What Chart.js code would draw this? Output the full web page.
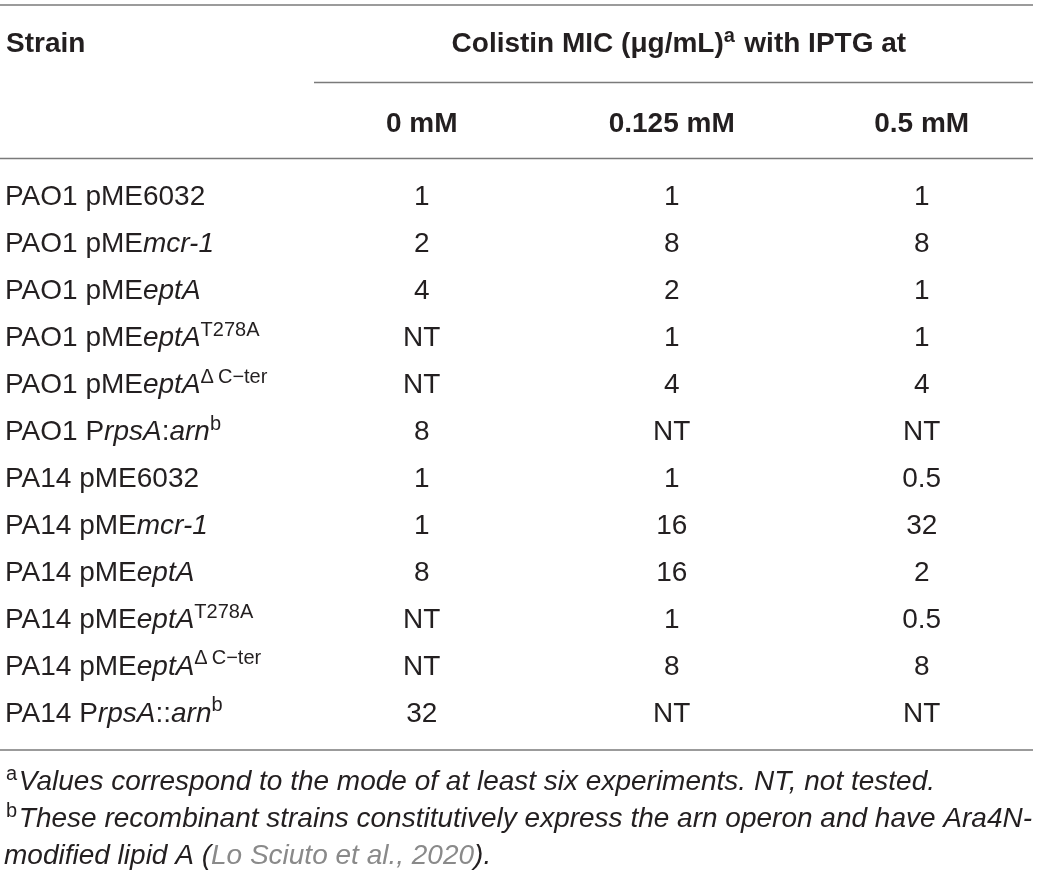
<!DOCTYPE html>
<html>
<head>
<meta charset="utf-8">
<script src="https://cdn.jsdelivr.net/npm/chart.js@4.4.0/dist/chart.umd.min.js"></script>
<style>
  html, body { margin: 0; padding: 0; background: #fff; }
  #wrap { width: 1040px; height: 875px; }
</style>
</head>
<body>
<div id="wrap"><canvas id="tbl" width="1040" height="875"></canvas></div>
<script>
// table content
const strains = [
  'PAO1 pME6032',
  'PAO1 pME<i>mcr-1</i>',
  'PAO1 pME<i>eptA</i>',
  'PAO1 pME<i>eptA</i><sup>T278A</sup>',
  'PAO1 pME<i>eptA</i><sup>\u0394\u2009C\u2212ter</sup>',
  'PAO1 P<i>rpsA</i>:<i>arn</i><sup>b</sup>',
  'PA14 pME6032',
  'PA14 pME<i>mcr-1</i>',
  'PA14 pME<i>eptA</i>',
  'PA14 pME<i>eptA</i><sup>T278A</sup>',
  'PA14 pME<i>eptA</i><sup>\u0394\u2009C\u2212ter</sup>',
  'PA14 P<i>rpsA</i>::<i>arn</i><sup>b</sup>'
];
const iptgLevels = ['0 mM', '0.125 mM', '0.5 mM'];
const mic0mM   = ['1', '2', '4', 'NT', 'NT', '8', '1', '1', '8', 'NT', 'NT', '32'];
const mic125uM = ['1', '8', '2', '1', '4', 'NT', '1', '16', '16', '1', '8', 'NT'];
const mic500uM = ['1', '8', '1', '1', '4', 'NT', '0.5', '32', '2', '0.5', '8', 'NT'];

const headStrain = 'Strain';
const headMic = 'Colistin MIC (\u03bcg/mL)<sup>a</sup> with IPTG at';
const footA = '<sup>a</sup><i>Values correspond to the mode of at least six experiments. NT, not tested.</i>';
const footB1 = '<sup>b</sup><i>These recombinant strains constitutively express the arn operon and have Ara4N-</i>';
const footB2 = '<i>modified lipid A (</i><g>Lo Sciuto et al., 2020</g><i>).</i>';

const FONT = "'Liberation Sans', Arial, Helvetica, sans-serif";
const INK = '#231f20';
const RULE = '#7a7a7a';

// split a string with <i>, <sup>, <g> tags into styled runs
function parseRich(str) {
  const runs = [];
  const re = /<(i|sup|g)>(.*?)<\/\1>|([^<]+)/g;
  let m;
  while ((m = re.exec(str)) !== null) {
    if (m[3] !== undefined) runs.push({ t: m[3] });
    else runs.push({ t: m[2], i: m[1] === 'i' || m[1] === 'g', sup: m[1] === 'sup', gray: m[1] === 'g' });
  }
  return runs;
}

function runFont(r, size, bold, italicAll) {
  const s = r.sup ? Math.round(size * 0.72) : size;
  const it = (r.i || (italicAll && !r.sup)) ? 'italic ' : '';
  return it + (bold ? 'bold ' : '') + s + 'px ' + FONT;
}

function drawRich(ctx, str, x, baseY, opts) {
  const size = opts.size, bold = !!opts.bold;
  const runs = parseRich(str);
  let total = 0;
  runs.forEach(r => { ctx.font = runFont(r, size, bold, opts.italic); r.w = ctx.measureText(r.t).width; total += r.w; });
  let cx = x;
  if (opts.align === 'center') cx = x - total / 2;
  ctx.textAlign = 'left';
  ctx.textBaseline = 'alphabetic';
  runs.forEach(r => {
    ctx.font = runFont(r, size, bold, opts.italic);
    ctx.fillStyle = r.gray ? '#8a8a8a' : INK;
    ctx.fillText(r.t, cx, r.sup ? baseY - size * 0.36 : baseY);
    cx += r.w + (r.sup ? size * 0.06 : 0);
  });
}

function rule(ctx, x1, x2, y) {
  ctx.save();
  ctx.strokeStyle = RULE;
  ctx.lineWidth = 1.5;
  ctx.beginPath();
  ctx.moveTo(x1, y);
  ctx.lineTo(x2, y);
  ctx.stroke();
  ctx.restore();
}

const tablePlugin = {
  id: 'tableText',
  afterDatasetsDraw(chart) {
    const ctx = chart.ctx;
    const xs = chart.scales.x, ys = chart.scales.y;
    const fs = 28;
    ctx.save();

    // rules
    rule(ctx, 0, 1033, 5);
    rule(ctx, 314, 1033, 82.5);
    rule(ctx, 0, 1033, 158.5);
    rule(ctx, 0, 1033, 750);

    // header
    drawRich(ctx, headStrain, 6, 52, { size: fs, bold: true });
    drawRich(ctx, headMic, 678, 52, { size: fs, bold: true, align: 'center' });
    iptgLevels.forEach((lv, k) => {
      drawRich(ctx, lv, xs.getPixelForValue(k), 132, { size: fs, bold: true, align: 'center' });
    });

    // strain names on the row positions of the y scale
    strains.forEach((s, i) => {
      drawRich(ctx, s, 5, ys.getPixelForValue(i) + fs * 0.358, { size: fs });
    });

    // cell values at each point
    chart.data.datasets.forEach((ds, k) => {
      const meta = chart.getDatasetMeta(k);
      meta.data.forEach((pt, i) => {
        drawRich(ctx, ds.data[i].v, pt.x, pt.y + fs * 0.358, { size: fs, align: 'center' });
      });
    });

    // footnotes
    drawRich(ctx, footA, 6, 790, { size: 28, italic: true });
    drawRich(ctx, footB1, 6, 827, { size: 28, italic: true });
    drawRich(ctx, footB2, 4, 864, { size: 28, italic: true });
    ctx.restore();
  }
};

const micSeries = [mic0mM, mic125uM, mic500uM];
const datasets = micSeries.map((vals, k) => ({
  label: iptgLevels[k],
  data: strains.map((s, i) => ({ x: iptgLevels[k], y: s, v: vals[i] })),
  pointRadius: 0,
  pointHoverRadius: 0,
  showLine: false
}));

new Chart(document.getElementById('tbl').getContext('2d'), {
  type: 'scatter',
  data: { datasets: datasets },
  options: {
    responsive: false,
    devicePixelRatio: 1,
    animation: false,
    events: [],
    layout: { padding: { left: 421.7, right: 118.3, top: 195, bottom: 163.5 } },
    scales: {
      x: { type: 'category', labels: iptgLevels, offset: false, display: false },
      y: { type: 'category', labels: strains, offset: false, display: false }
    },
    plugins: {
      legend: { display: false },
      tooltip: { enabled: false }
    }
  },
  plugins: [tablePlugin]
});
</script>
</body>
</html>
